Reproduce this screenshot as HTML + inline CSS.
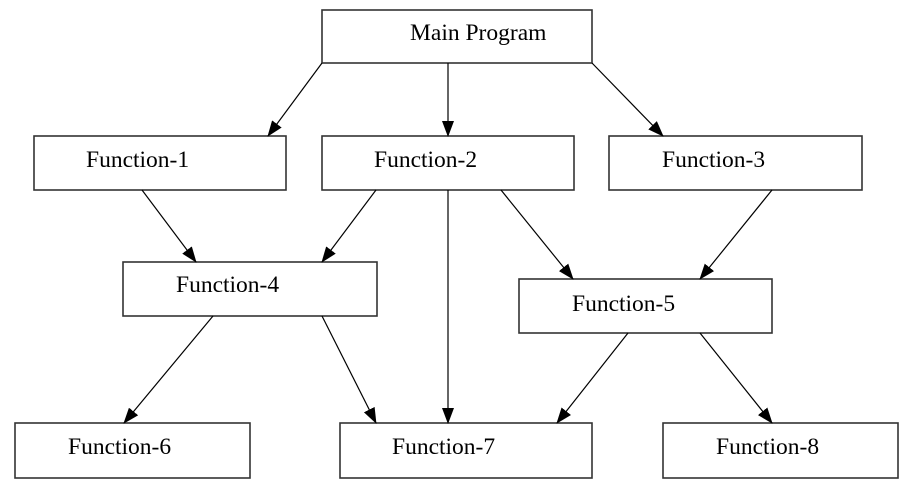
<!DOCTYPE html>
<html><head><meta charset="utf-8"><style>
html,body{margin:0;padding:0;background:#fff;width:917px;height:491px;overflow:hidden}
text{font-family:"Liberation Serif",serif;font-size:23.5px;fill:#000}
</style></head><body>
<svg width="917" height="491" viewBox="0 0 917 491" xmlns="http://www.w3.org/2000/svg">
<defs><marker id="a" markerWidth="16" markerHeight="12" refX="15" refY="6" orient="auto" markerUnits="userSpaceOnUse"><path d="M0,0 L16,6 L0,12 Z" fill="#000"/></marker></defs>
<g fill="#fff" stroke="#333" stroke-width="1.6">
<rect x="322" y="10" width="270" height="53"/>
<rect x="34" y="136" width="252" height="54"/>
<rect x="322" y="136" width="252" height="54"/>
<rect x="609" y="136" width="253" height="54"/>
<rect x="123" y="262" width="254" height="54"/>
<rect x="519" y="279" width="253" height="54"/>
<rect x="15" y="423" width="235" height="55"/>
<rect x="340" y="423" width="252" height="55"/>
<rect x="663" y="423" width="235" height="55"/>
</g>
<g stroke="#000" stroke-width="1.2" marker-end="url(#a)">
<line x1="322" y1="63" x2="268" y2="136"/>
<line x1="448" y1="63" x2="448" y2="136"/>
<line x1="592" y1="63" x2="663" y2="136"/>
<line x1="142" y1="190" x2="196" y2="262"/>
<line x1="376" y1="190" x2="322" y2="262"/>
<line x1="448" y1="190" x2="448" y2="423"/>
<line x1="501" y1="190" x2="573" y2="279"/>
<line x1="772" y1="190" x2="700" y2="279"/>
<line x1="213" y1="316" x2="124" y2="423"/>
<line x1="322" y1="316" x2="376" y2="423"/>
<line x1="628" y1="333" x2="557" y2="423"/>
<line x1="700" y1="333" x2="772" y2="423"/>
</g>
<text x="410" y="40">Main Program</text>
<text x="86" y="167">Function-1</text>
<text x="374" y="167">Function-2</text>
<text x="662" y="167">Function-3</text>
<text x="176" y="292">Function-4</text>
<text x="572" y="311">Function-5</text>
<text x="68" y="454">Function-6</text>
<text x="392" y="454">Function-7</text>
<text x="716" y="454">Function-8</text>
</svg>
</body></html>
